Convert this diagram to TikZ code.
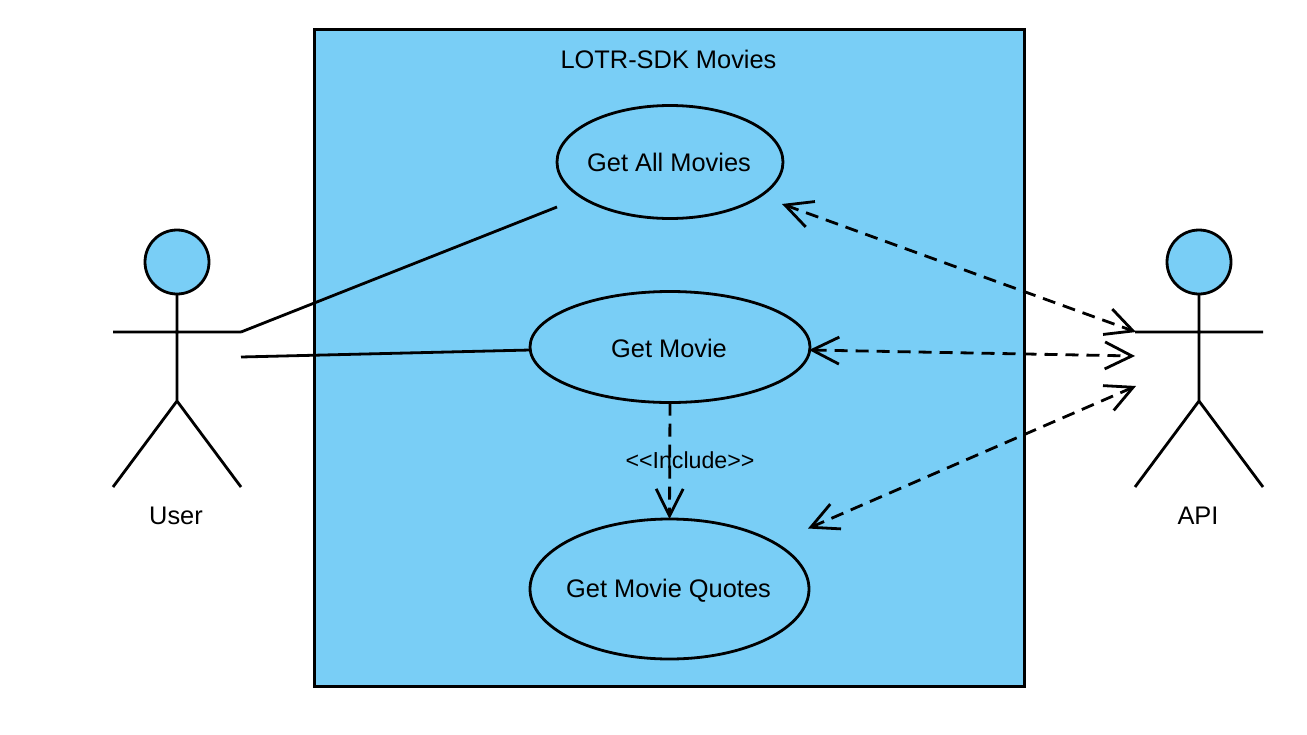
\documentclass[tikz,border=0pt]{standalone}
\usepackage{fontspec}
\setmainfont{Liberation Sans}
\usetikzlibrary{shapes.geometric,arrows.meta}
\definecolor{skyfill}{HTML}{79CEF6}
\tikzset{
  ln/.style={line width=2.8pt,black},
  lbl/.style={font=\fontsize{25.4}{28}\selectfont,inner sep=0pt,text=black},
  usecase/.style={ellipse,draw,ln,fill=skyfill,inner sep=0pt,outer sep=0pt},
  head/.style={circle,draw,ln,fill=skyfill,inner sep=0pt,outer sep=0pt,minimum size=64pt},
  dep/.style={ln,dash pattern=on 13pt off 8pt,>={Straight Barb[length=27pt,width=27pt,line width=2.8pt]}}
}
\begin{document}
\begin{tikzpicture}[x=1pt,y=-1pt]
\useasboundingbox (0,0) rectangle (1307,734);
\fill[white] (0,0) rectangle (1307,734);
\node[draw,ln,line width=2.9pt,fill=skyfill,minimum width=709.4pt,minimum height=656.4pt,inner sep=0pt,outer sep=0pt] (sys) at (669.6,358.1) {};
\node[lbl] (title) at (668.5,59) {LOTR-SDK Movies};
\node[usecase,minimum width=226pt,minimum height=113pt] (all) at (670,162) {};
\node[usecase,minimum width=280pt,minimum height=111pt] (movie) at (670,347) {};
\node[usecase,minimum width=279pt,minimum height=140pt] (quotes) at (669.5,589) {};
\node[lbl] (alltext) at (669,162) {Get All Movies};
\node[lbl] (movietext) at (669,348) {Get Movie};
\node[lbl] (quotestext) at (668.5,591) {Get Movie Quotes};
% User actor
\node[head] (uh) at (177,262) {};
\coordinate (uhip) at (177,401);
\coordinate (ual) at (113,332);
\coordinate (uar) at (241,332);
\coordinate (ull) at (113,487);
\coordinate (ulr) at (241,487);
\coordinate (ulink) at (241,357);
\draw[ln] (uh.south) -- (uhip) (ual) -- (uar) (ull) -- (uhip) -- (ulr);
\node[lbl] (ulabel) at (176,516) {User};
% API actor
\node[head] (ah) at (1199,262) {};
\coordinate (ahip) at (1199,401);
\coordinate (aal) at (1135,332);
\coordinate (aar) at (1263,332);
\coordinate (all2) at (1135,487);
\coordinate (alr) at (1263,487);
\draw[ln] (ah.south) -- (ahip) (aal) -- (aar) (all2) -- (ahip) -- (alr);
\node[lbl] (alabel) at (1198,516) {API};
% connector ends
\coordinate (allsw) at (557,207);
\coordinate (movw) at (530,350);
\coordinate (alle) at (782,204);
\coordinate (move) at (809,350);
\coordinate (quoe) at (808,528.5);
\coordinate (apia) at (1136,332);
\coordinate (apib) at (1135,356);
\coordinate (apic) at (1136,386);
\draw[ln] (allsw) -- (uar);
\draw[ln] (ulink) -- (movw);
\draw[dep,<->] (alle) -- (apia);
\draw[dep,<->] (move) -- (apib);
\draw[dep,<->] (quoe) -- (apic);
\draw[dep,->] (movie.south) -- (quotes.north);
\node[font=\fontsize{23.2}{26}\selectfont,inner sep=0pt] (inc) at (690,460) {<{}<Include>{}>};
\end{tikzpicture}
\end{document}
